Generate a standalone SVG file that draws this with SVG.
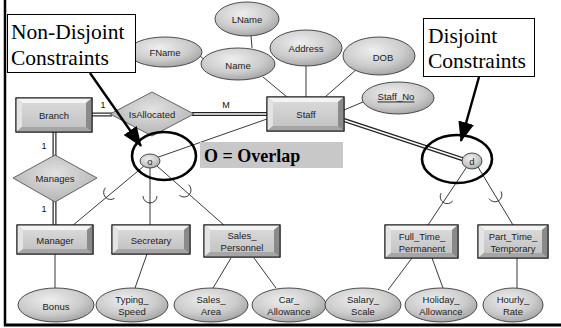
<svg xmlns="http://www.w3.org/2000/svg" width="561" height="328" viewBox="0 0 561 328">
  <defs>
    <radialGradient id="ellFill" cx="0.42" cy="0.35" r="0.7">
      <stop offset="0" stop-color="#eeeeee"/>
      <stop offset="0.6" stop-color="#cccccc"/>
      <stop offset="1" stop-color="#a0a0a0"/>
    </radialGradient>
    <radialGradient id="diaFill" cx="0.5" cy="0.4" r="0.6">
      <stop offset="0" stop-color="#e2e2e2"/>
      <stop offset="1" stop-color="#b4b4b4"/>
    </radialGradient>
    <linearGradient id="faceFill" x1="0" y1="0" x2="0" y2="1">
      <stop offset="0" stop-color="#d8d8d8"/>
      <stop offset="1" stop-color="#c4c4c4"/>
    </linearGradient>
    <marker id="arrowHead" markerWidth="20" markerHeight="16" refX="19" refY="8" orient="auto" markerUnits="userSpaceOnUse">
      <path d="M0,0 L20,8 L0,16 Z" fill="#000"/>
    </marker>
    <style>
      .ell { fill: url(#ellFill); stroke: #3a3a3a; stroke-width: 0.9; }
      .dia { fill: url(#diaFill); stroke: #555; stroke-width: 0.9; }
      .outer { fill: #9c9c9c; stroke: #1a1a1a; stroke-width: 1; }
      .bvT { fill: #f4f4f4; }
      .bvL { fill: #e4e4e4; }
      .bvR { fill: #8a8a8a; }
      .bvB { fill: #a6a6a6; }
      .face { fill: url(#faceFill); }
      .lbl { font-family: "Liberation Sans", Arial, sans-serif; font-size: 9.5px; fill: #222; text-anchor: middle; dominant-baseline: central; }
      .card { font-family: "Liberation Sans", Arial, sans-serif; font-size: 9px; fill: #111; text-anchor: middle; }
      .ln { stroke: #222; stroke-width: 0.9; fill: none; }
      .dblOut { stroke: #222; stroke-width: 4; fill: none; }
      .dblIn { stroke: #fff; stroke-width: 1.6; fill: none; }
      .hl { stroke: #000; stroke-width: 2.6; fill: none; }
      .sub { stroke: #222; stroke-width: 0.9; fill: none; }
      .note { font-family: "Liberation Serif", "Times New Roman", serif; font-size: 21.5px; fill: #000; }
      .callout { stroke: #000; stroke-width: 2.4; fill: none; }
    </style>
  </defs>

  <rect x="0" y="0" width="561" height="328" fill="#fff"/>

  <!-- frame -->
  <line x1="5" y1="0" x2="5" y2="326" stroke="#000" stroke-width="2.5"/>
  <line x1="4" y1="325" x2="561" y2="325" stroke="#000" stroke-width="3"/>

  <!-- connectors -->
  <g id="connectors">
    <!-- attribute links -->
    <line class="ln" x1="251" y1="36" x2="252" y2="48"/>
    <line class="ln" x1="200" y1="56" x2="205" y2="60"/>
    <line class="ln" x1="263" y1="77" x2="287" y2="97"/>
    <line class="ln" x1="306" y1="66" x2="306" y2="97"/>
    <line class="ln" x1="357" y1="69" x2="325" y2="97"/>
    <line class="ln" x1="363" y1="102" x2="344" y2="110"/>
    <line class="ln" x1="55" y1="254" x2="55" y2="288"/>
    <line class="ln" x1="147" y1="254" x2="135" y2="288"/>
    <line class="ln" x1="231" y1="258" x2="213" y2="288"/>
    <line class="ln" x1="254" y1="258" x2="276" y2="288"/>
    <line class="ln" x1="412" y1="258" x2="388" y2="290"/>
    <line class="ln" x1="432" y1="258" x2="443" y2="288"/>
    <line class="ln" x1="517" y1="258" x2="517" y2="288"/>

    <!-- total participation (double lines) -->
    <g>
      <line class="dblOut" x1="92" y1="114.5" x2="112" y2="114.5"/>
      <line class="dblIn" x1="91" y1="114.5" x2="113" y2="114.5"/>
      <line class="dblOut" x1="192" y1="114" x2="267" y2="114"/>
      <line class="dblIn" x1="191" y1="114" x2="268" y2="114"/>
      <line class="dblOut" x1="54.5" y1="132" x2="54.5" y2="225"/>
      <line class="dblIn" x1="54.5" y1="131" x2="54.5" y2="226"/>
      <line class="dblOut" x1="344" y1="120" x2="465" y2="160"/>
      <line class="dblIn" x1="343" y1="119.7" x2="466" y2="160.3"/>
    </g>

    <!-- specialization links -->
    <line class="ln" x1="267" y1="119" x2="150" y2="160"/>
    <line class="ln" x1="144" y1="166" x2="72" y2="226"/>
    <line class="ln" x1="150" y1="168" x2="150" y2="225"/>
    <line class="ln" x1="157" y1="166" x2="225" y2="226"/>
    <line class="ln" x1="466" y1="168" x2="428" y2="225"/>
    <line class="ln" x1="478" y1="167" x2="513" y2="225"/>

    <!-- subset marks -->
    <path class="sub" d="M105.5,187.7 A7,7 0 0 0 114.5,198.3"/>
    <path class="sub" d="M143,196 A7,7 0 0 0 157,196"/>
    <path class="sub" d="M179.4,195.3 A7,7 0 0 0 188.6,184.7"/>
    <path class="sub" d="M441.2,193.1 A7,7 0 0 0 452.8,200.9"/>
    <path class="sub" d="M489,198.6 A7,7 0 0 0 501,191.4"/>

    <!-- cardinalities -->
    <text class="card" x="103" y="108">1</text>
    <text class="card" x="226" y="108">M</text>
    <text class="card" x="44" y="149">1</text>
    <text class="card" x="44" y="212">1</text>
  </g>

  <!-- attributes -->
  <g id="attr-lname"><ellipse class="ell" cx="247" cy="19" rx="32" ry="17"/><text class="lbl" x="247" y="19">LName</text></g>
  <g id="attr-fname"><ellipse class="ell" cx="165" cy="52" rx="37" ry="15"/><text class="lbl" x="165" y="52">FName</text></g>
  <g id="attr-name"><ellipse class="ell" cx="238" cy="64" rx="37" ry="16"/><text class="lbl" x="238" y="65">Name</text></g>
  <g id="attr-address"><ellipse class="ell" cx="306" cy="48" rx="36" ry="18"/><text class="lbl" x="306" y="48">Address</text></g>
  <g id="attr-dob"><ellipse class="ell" cx="379" cy="56" rx="36" ry="19"/><text class="lbl" x="383" y="57">DOB</text></g>
  <g id="attr-staffno"><ellipse class="ell" cx="398" cy="98" rx="36" ry="16"/><text class="lbl" x="396" y="96" text-decoration="underline">Staff_No</text></g>

  <g id="attr-bonus"><ellipse class="ell" cx="56" cy="305" rx="38" ry="17"/><text class="lbl" x="56" y="306">Bonus</text></g>
  <g id="attr-typing"><ellipse class="ell" cx="132" cy="305" rx="36" ry="17"/><text class="lbl" x="132" y="299">Typing_</text><text class="lbl" x="132" y="311">Speed</text></g>
  <g id="attr-salesarea"><ellipse class="ell" cx="211" cy="305" rx="37" ry="17"/><text class="lbl" x="211" y="299">Sales_</text><text class="lbl" x="211" y="311">Area</text></g>
  <g id="attr-car"><ellipse class="ell" cx="289" cy="305" rx="37" ry="17"/><text class="lbl" x="289" y="299">Car_</text><text class="lbl" x="289" y="311">Allowance</text></g>
  <g id="attr-salary"><ellipse class="ell" cx="363" cy="305" rx="38" ry="17"/><text class="lbl" x="363" y="299">Salary_</text><text class="lbl" x="363" y="311">Scale</text></g>
  <g id="attr-holiday"><ellipse class="ell" cx="441" cy="305" rx="36" ry="17"/><text class="lbl" x="441" y="299">Holiday_</text><text class="lbl" x="441" y="311">Allowance</text></g>
  <g id="attr-hourly"><ellipse class="ell" cx="513" cy="305" rx="30" ry="17"/><text class="lbl" x="513" y="299">Hourly_</text><text class="lbl" x="513" y="311">Rate</text></g>

  <!-- relationships -->
  <g id="rel-isallocated"><polygon class="dia" points="110,114 152,92 194,114 152,136"/><text class="lbl" x="152" y="114">IsAllocated</text></g>
  <g id="rel-manages"><polygon class="dia" points="13,178 55,155 97,178 55,202"/><text class="lbl" x="55" y="178">Manages</text></g>

  <!-- entities (bevelled boxes) -->
  <g id="ent-branch">
    <rect class="outer" x="16" y="98" width="76" height="34"/>
    <polygon class="bvT" points="16,98 92,98 86,103 22,103"/>
    <polygon class="bvL" points="16,98 22,103 22,127 16,132"/>
    <polygon class="bvR" points="92,98 92,132 86,127 86,103"/>
    <polygon class="bvB" points="16,132 92,132 86,127 22,127"/>
    <rect class="face" x="22" y="103" width="64" height="24"/>
    <rect x="16" y="98" width="76" height="34" fill="none" stroke="#1a1a1a"/>
    <text class="lbl" x="54" y="115">Branch</text>
  </g>
  <g id="ent-staff">
    <rect class="outer" x="267" y="97" width="77" height="34"/>
    <polygon class="bvT" points="267,97 344,97 338,102 273,102"/>
    <polygon class="bvL" points="267,97 273,102 273,126 267,131"/>
    <polygon class="bvR" points="344,97 344,131 338,126 338,102"/>
    <polygon class="bvB" points="267,131 344,131 338,126 273,126"/>
    <rect class="face" x="273" y="102" width="65" height="24"/>
    <rect x="267" y="97" width="77" height="34" fill="none" stroke="#1a1a1a"/>
    <text class="lbl" x="306" y="114">Staff</text>
  </g>
  <g id="ent-manager">
    <rect class="outer" x="17" y="225" width="76" height="29"/>
    <polygon class="bvT" points="17,225 93,225 87,230 23,230"/>
    <polygon class="bvL" points="17,225 23,230 23,249 17,254"/>
    <polygon class="bvR" points="93,225 93,254 87,249 87,230"/>
    <polygon class="bvB" points="17,254 93,254 87,249 23,249"/>
    <rect class="face" x="23" y="230" width="64" height="19"/>
    <rect x="17" y="225" width="76" height="29" fill="none" stroke="#1a1a1a"/>
    <text class="lbl" x="55" y="240">Manager</text>
  </g>
  <g id="ent-secretary">
    <rect class="outer" x="112" y="225" width="78" height="29"/>
    <polygon class="bvT" points="112,225 190,225 184,230 118,230"/>
    <polygon class="bvL" points="112,225 118,230 118,249 112,254"/>
    <polygon class="bvR" points="190,225 190,254 184,249 184,230"/>
    <polygon class="bvB" points="112,254 190,254 184,249 118,249"/>
    <rect class="face" x="118" y="230" width="66" height="19"/>
    <rect x="112" y="225" width="78" height="29" fill="none" stroke="#1a1a1a"/>
    <text class="lbl" x="151" y="240">Secretary</text>
  </g>
  <g id="ent-sales">
    <rect class="outer" x="204" y="225" width="76" height="32"/>
    <polygon class="bvT" points="204,225 280,225 274,230 210,230"/>
    <polygon class="bvL" points="204,225 210,230 210,252 204,257"/>
    <polygon class="bvR" points="280,225 280,257 274,252 274,230"/>
    <polygon class="bvB" points="204,257 280,257 274,252 210,252"/>
    <rect class="face" x="210" y="230" width="64" height="22"/>
    <rect x="204" y="225" width="76" height="32" fill="none" stroke="#1a1a1a"/>
    <text class="lbl" x="242" y="235">Sales_</text>
    <text class="lbl" x="242" y="247">Personnel</text>
  </g>
  <g id="ent-fulltime">
    <rect class="outer" x="385" y="225" width="73" height="33"/>
    <polygon class="bvT" points="385,225 458,225 452,230 391,230"/>
    <polygon class="bvL" points="385,225 391,230 391,253 385,258"/>
    <polygon class="bvR" points="458,225 458,258 452,253 452,230"/>
    <polygon class="bvB" points="385,258 458,258 452,253 391,253"/>
    <rect class="face" x="391" y="230" width="61" height="23"/>
    <rect x="385" y="225" width="73" height="33" fill="none" stroke="#1a1a1a"/>
    <text class="lbl" x="422" y="236">Full_Time_</text>
    <text class="lbl" x="422" y="248">Permanent</text>
  </g>
  <g id="ent-parttime">
    <rect class="outer" x="478" y="225" width="70" height="33"/>
    <polygon class="bvT" points="478,225 548,225 542,230 484,230"/>
    <polygon class="bvL" points="478,225 484,230 484,253 478,258"/>
    <polygon class="bvR" points="548,225 548,258 542,253 542,230"/>
    <polygon class="bvB" points="478,258 548,258 542,253 484,253"/>
    <rect class="face" x="484" y="230" width="58" height="23"/>
    <rect x="478" y="225" width="70" height="33" fill="none" stroke="#1a1a1a"/>
    <text class="lbl" x="513" y="236">Part_Time_</text>
    <text class="lbl" x="513" y="248">Temporary</text>
  </g>

  <!-- specialization circles -->
  <g id="spec-overlap">
    <ellipse class="ell" cx="150" cy="161" rx="10" ry="7"/>
    <text class="lbl" x="150" y="161" font-size="9">o</text>
    <ellipse class="hl" cx="164" cy="156" rx="32" ry="24"/>
  </g>
  <g id="spec-disjoint">
    <ellipse class="ell" cx="472" cy="161" rx="10" ry="8"/>
    <text class="lbl" x="472" y="161" font-size="9">d</text>
    <ellipse class="hl" cx="457" cy="159" rx="35" ry="24"/>
  </g>

  <!-- overlap legend -->
  <g id="legend-overlap">
    <rect x="200" y="142" width="143" height="26" fill="#c8c8c8"/>
    <text x="204" y="162" font-family="'Liberation Serif', 'Times New Roman', serif" font-size="18" font-weight="bold" fill="#000">O = Overlap</text>
  </g>

  <!-- callouts -->
  <g id="note-nondisjoint">
    <rect x="7.5" y="14.5" width="128" height="58" fill="#fff" stroke="#000" stroke-width="1"/>
    <text class="note" x="11" y="39">Non-Disjoint</text>
    <text class="note" x="11" y="65">Constraints</text>
    <line class="callout" x1="90" y1="73" x2="141" y2="146" marker-end="url(#arrowHead)"/>
  </g>
  <g id="note-disjoint">
    <rect x="423.5" y="18.5" width="111" height="58" fill="#fff" stroke="#000" stroke-width="1"/>
    <text class="note" x="428" y="43">Disjoint</text>
    <text class="note" x="428" y="68">Constraints</text>
    <line class="callout" x1="479" y1="77" x2="461" y2="141" marker-end="url(#arrowHead)"/>
  </g>
</svg>
